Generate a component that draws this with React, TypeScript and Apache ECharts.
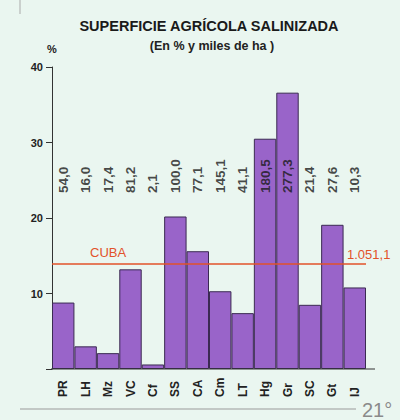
import React, { useEffect, useRef } from "react";
import * as echarts from "echarts";

// Provinces (category axis)
const categories = ["PR", "LH", "Mz", "VC", "Cf", "SS", "CA", "Cm", "LT", "Hg", "Gr", "SC", "Gt", "IJ"];
// Salinized share of agricultural area (%)
const pctValues = [8.8, 3.0, 2.1, 13.2, 0.6, 20.2, 15.6, 10.3, 7.4, 30.5, 36.6, 8.5, 19.1, 10.8];
// Salinized area (thousand ha)
const haValues = [54.0, 16.0, 17.4, 81.2, 2.1, 100.0, 77.1, 145.1, 41.1, 180.5, 277.3, 21.4, 27.6, 10.3];
// Y axis ticks
const yTicks = [0, 10, 20, 30, 40];
// National reference
const cubaPct = 14.0;
const cubaHa = 1051.1;

const FONT = "'Liberation Sans', Arial, Helvetica, sans-serif";
const GRID_LEFT = 52;
const GRID_RIGHT_X = 366;
const GRID_TOP = 67;
const GRID_HEIGHT = 302;
const LABEL_ROW_Y = 23.3; // vertical position (axis units) where the rotated ha labels start

const fmtEs = (v: number) => {
  const [int, dec] = v.toFixed(1).split(".");
  const intG = int.replace(/\B(?=(\d{3})+(?!\d))/g, ".");
  return intG + "," + dec;
};

export default function App() {
  const ref = useRef<HTMLDivElement>(null);

  useEffect(() => {
    if (!ref.current) return;
    const chart = echarts.init(ref.current, undefined, { renderer: "svg" });
    chart.setOption({
      animation: false,
      backgroundColor: "#eaf6f0",
      textStyle: { fontFamily: FONT },
      grid: {
        left: GRID_LEFT,
        top: GRID_TOP,
        width: GRID_RIGHT_X - GRID_LEFT,
        height: GRID_HEIGHT,
        containLabel: false,
      },
      xAxis: {
        type: "category",
        data: categories,
        axisLine: { show: false },
        axisTick: { show: false },
        axisLabel: {
          rotate: 90,
          align: "left",
          verticalAlign: "middle",
          margin: 28,
          fontSize: 12,
          fontWeight: "bold",
          color: "#222",
          fontFamily: FONT,
          interval: 0,
        },
      },
      yAxis: {
        type: "value",
        min: yTicks[0],
        max: yTicks[yTicks.length - 1],
        interval: yTicks[1] - yTicks[0],
        name: "%",
        nameLocation: "end",
        nameGap: 13,
        nameTextStyle: { fontSize: 11, fontWeight: "bold", color: "#222", fontFamily: FONT, align: "center" },
        axisLine: { show: true, lineStyle: { color: "#333", width: 1 } },
        axisTick: { show: true, length: 6, lineStyle: { color: "#333" } },
        axisLabel: {
          fontSize: 11,
          fontWeight: "bold",
          color: "#222",
          margin: 9,
          fontFamily: FONT,
          formatter: (v: number) => (v === 0 ? "" : String(v)),
        },
        splitLine: { show: false },
      },
      series: [
        {
          type: "bar",
          data: pctValues,
          barCategoryGap: "0%",
          itemStyle: { color: "#9964c9", borderColor: "#3b2a52", borderWidth: 1 },
          markLine: {
            silent: true,
            symbol: "none",
            label: { show: false },
            lineStyle: { color: "#e2522a", width: 1.5, type: "solid" },
            data: [{ yAxis: cubaPct }],
          },
          z: 2,
        },
        {
          type: "scatter",
          data: haValues.map((_, i) => [i, LABEL_ROW_Y]),
          symbolSize: 0,
          silent: true,
          z: 5,
          label: {
            show: true,
            position: "inside",
            rotate: 90,
            align: "left",
            verticalAlign: "middle",
            fontSize: 13.5,
            fontWeight: "bold",
            color: "#1a1a1a",
            fontFamily: FONT,
            formatter: (p: any) => fmtEs(haValues[p.dataIndex]),
          },
        },
      ],
    });

    const y0 = chart.convertToPixel({ yAxisIndex: 0 }, 0) as number;
    const yC = chart.convertToPixel({ yAxisIndex: 0 }, cubaPct) as number;

    chart.setOption({
      graphic: [
        {
          type: "text",
          x: 209,
          y: 26,
          style: {
            text: "SUPERFICIE AGRÍCOLA SALINIZADA",
            font: `bold 14.5px ${FONT}`,
            fill: "#1a1a1a",
            align: "center",
            verticalAlign: "middle",
          },
        },
        {
          type: "text",
          x: 212,
          y: 46,
          style: {
            text: "(En % y miles de ha )",
            font: `bold 12.5px ${FONT}`,
            fill: "#222",
            align: "center",
            verticalAlign: "middle",
          },
        },
        {
          type: "line",
          shape: { x1: GRID_LEFT - 1, y1: y0, x2: 375, y2: y0 },
          style: { stroke: "#333", lineWidth: 1 },
          z: 10,
        },
        {
          type: "text",
          x: GRID_LEFT + 38,
          y: yC - 10.5,
          style: {
            text: "CUBA",
            font: `13px ${FONT}`,
            fill: "#e2522a",
            align: "left",
            verticalAlign: "middle",
          },
        },
        {
          type: "text",
          x: GRID_RIGHT_X - 19,
          y: yC - 9,
          style: {
            text: fmtEs(cubaHa),
            font: `13px ${FONT}`,
            fill: "#e2522a",
            align: "left",
            verticalAlign: "middle",
          },
        },
        {
          type: "line",
          shape: { x1: 20, y1: 409, x2: 356, y2: 409 },
          style: { stroke: "#9a9a9a", lineWidth: 1 },
        },
        {
          type: "text",
          x: 362,
          y: 410,
          style: {
            text: "21°",
            font: `20px ${FONT}`,
            fill: "#8a8a8a",
            align: "left",
            verticalAlign: "middle",
          },
        },
        {
          type: "line",
          shape: { x1: 20, y1: 0, x2: 20, y2: 14 },
          style: { stroke: "#aaaaaa", lineWidth: 1 },
        },
      ],
    });

    return () => chart.dispose();
  }, []);

  return (
    <div
      ref={ref}
      style={{ position: "absolute", left: 0, top: 0, width: 400, height: 420 }}
    />
  );
}
